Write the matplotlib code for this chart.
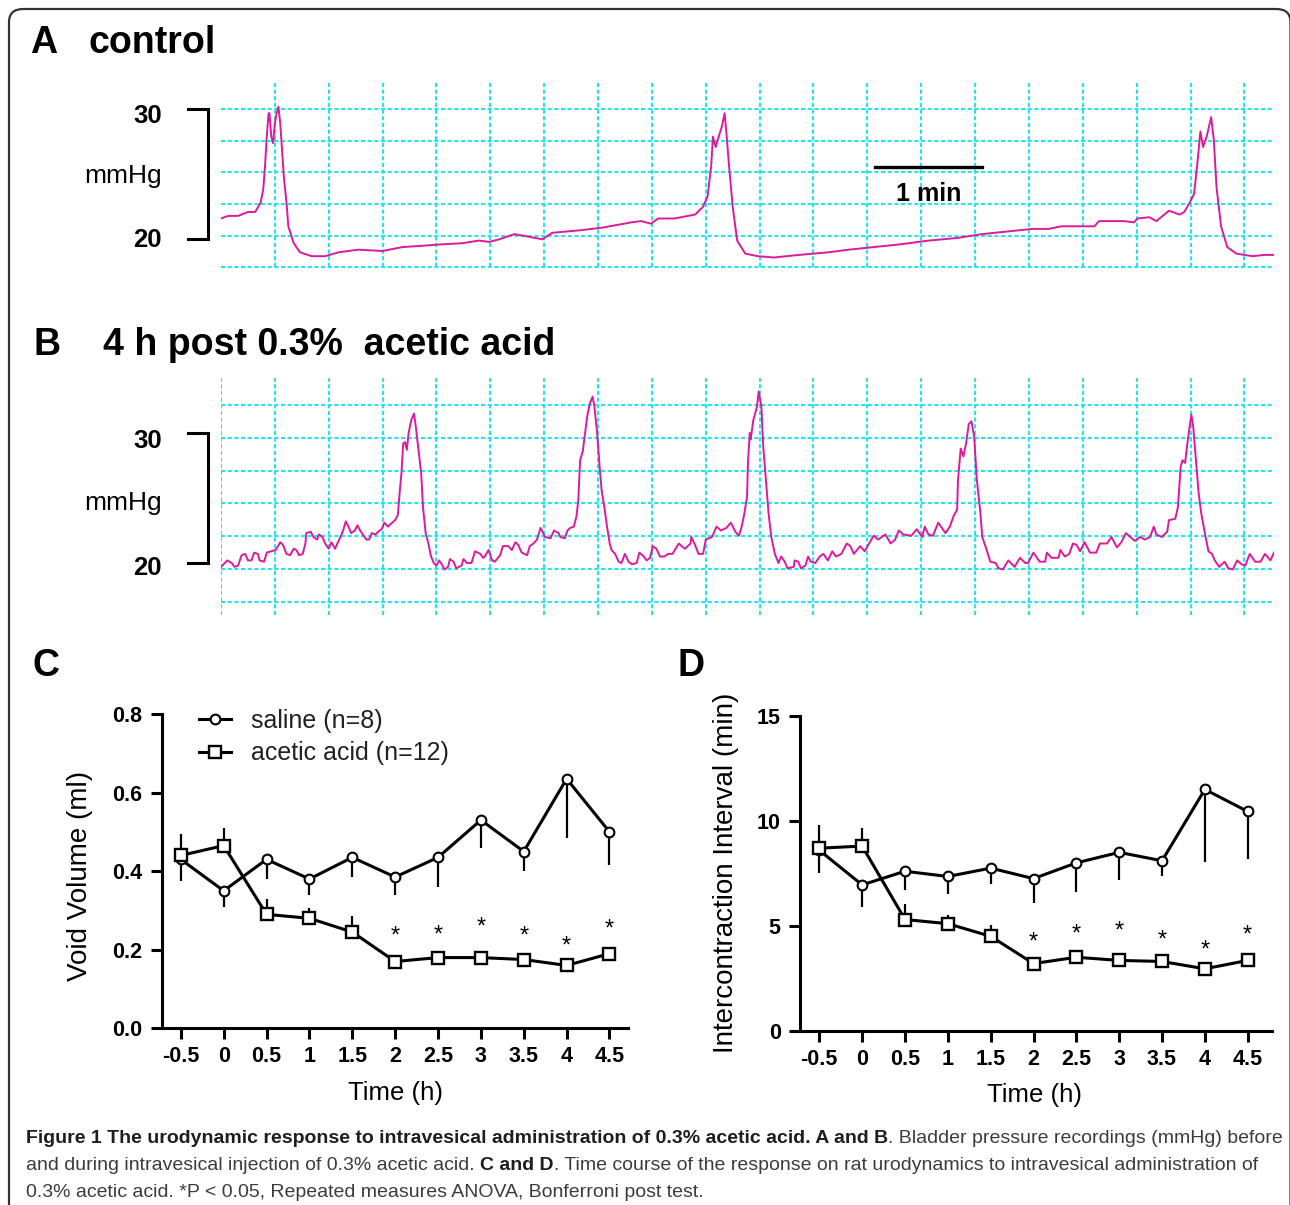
import matplotlib
matplotlib.use('Agg')
import matplotlib.pyplot as plt
import matplotlib.transforms as mtransforms
from matplotlib.lines import Line2D
from matplotlib.patches import FancyBboxPatch
from matplotlib import font_manager

plt.rcParams['font.family'] = ['Liberation Sans', 'DejaVu Sans']

"""Pressure recordings (time in s, pressure in mmHg)"""
ctrlTime = [0, 4, 9.5, 15, 19, 22, 23.5, 24.5, 25.5, 26.5,
            27, 28, 29, 30, 31, 32, 33, 34, 35, 36.5,
            37.5, 40.5, 44, 50.5, 58, 65.5, 76.5, 90, 101, 112,
            121.5, 134.5, 143.5, 149.5, 155, 163.5, 179, 184.5, 200.5, 212.5,
            228.5, 234, 239.5, 243.5, 252.5, 264, 268.5, 271, 273, 274,
            275.5, 277, 279, 280.5, 281.5, 283, 285, 287.5, 292, 299,
            308, 322, 338.5, 349.5, 363.5, 377.5, 394, 410, 424, 438,
            452, 461, 468, 486.5, 489, 503, 508.5, 510.5, 517, 521,
            528, 534, 536.5, 539.5, 542, 544, 545.5, 547, 549, 551.5,
            553, 554.5, 557, 560.5, 565.5, 574.5, 581.5, 586.5]
ctrlPressure = [21.6, 21.8, 21.8, 22.1, 22.1, 22.8, 23.8, 25.6, 27.9, 29.7,
                29.7, 27.9, 27.4, 28.9, 29.7, 30.2, 28.9, 26.9, 24.8, 22.8,
                21.0, 19.7, 19.0, 18.7, 18.7, 19.0, 19.2, 19.1, 19.4, 19.5,
                19.6, 19.7, 19.9, 19.8, 20.0, 20.4, 20.0, 20.5, 20.7, 20.9,
                21.3, 21.4, 21.2, 21.6, 21.6, 21.9, 22.5, 23.3, 25.6, 27.9,
                27.1, 27.8, 28.7, 29.7, 28.2, 25.6, 22.5, 19.9, 18.9, 18.7,
                18.6, 18.8, 19.0, 19.2, 19.4, 19.6, 19.9, 20.1, 20.4, 20.6,
                20.8, 20.8, 21.0, 21.0, 21.4, 21.4, 21.3, 21.6, 21.7, 21.4,
                22.2, 21.9, 22.1, 22.8, 23.5, 26.1, 28.3, 27.1, 27.9, 29.4,
                27.6, 24.0, 21.0, 19.4, 18.9, 18.7, 18.8, 18.8]

aceticTime = [0, 3.5, 6, 7.5, 9.5, 11.5, 13.5, 15, 17, 18.5,
              20.5, 21.5, 24, 25.5, 28, 30.5, 33, 34.5, 36.5, 38.5,
              40.5, 42, 43.5, 45.5, 47, 47.5, 50, 51.5, 53.5, 54.5,
              56.5, 58, 60, 61.5, 63.5, 66.5, 68, 69.5, 71, 72.5,
              74.5, 76, 77.5, 79.5, 81, 82.5, 84, 86, 87.5, 89.5,
              91, 93, 94.5, 97, 98.5, 99.5, 100.5, 101.5, 102.5, 103.5,
              104.5, 106, 107.5, 108.5, 110, 111.5, 112.5, 114, 115.5, 117,
              118.5, 120, 121.5, 123, 124.5, 126.5, 127.5, 129.5, 131, 134,
              135, 137, 139.5, 141.5, 144.5, 146, 147, 149, 151, 152.5,
              155.5, 157, 160, 162, 164, 165.5, 167.5, 170.5, 172, 174,
              176, 178, 180.5, 183.5, 185.5, 188, 189, 191.5, 193, 194.5,
              196.5, 198, 199, 200, 201.5, 203, 204, 205.5, 207, 208,
              209.5, 211, 212, 213.5, 215, 216.5, 217.5, 219.5, 221.5, 223,
              225, 227, 229, 231.5, 233, 235.5, 237, 239, 240.5, 242.5,
              244.5, 247, 249, 251.5, 255, 256.5, 258.5, 261.5, 262, 264,
              266, 268.5, 270, 273.5, 276, 278.5, 281.5, 284, 286.5, 288.5,
              290, 291.5, 293, 293.5, 294.5, 295, 296.5, 298.5, 299.5, 301,
              302, 303.5, 305, 306.5, 308.5, 310.5, 312, 314, 315.5, 319,
              319.5, 321.5, 323, 325.5, 327, 328.5, 331, 333.5, 335.5, 338,
              340.5, 342.5, 345.5, 348.5, 350.5, 352.5, 356, 358.5, 363.5, 366,
              370, 373, 375.5, 377.5, 380, 384.5, 387.5, 390.5, 392, 394,
              396.5, 399.5, 403.5, 406, 408, 410, 410.5, 412, 413.5, 415,
              416.5, 418, 419.5, 421, 423, 424, 426, 428.5, 431.5, 433,
              435.5, 438.5, 442, 445, 448, 449.5, 452.5, 456, 459, 460,
              462.5, 466.5, 467.5, 470, 472.5, 474.5, 476.5, 478.5, 481, 484,
              487.5, 489.5, 493.5, 496, 499, 501.5, 504, 506.5, 509, 512,
              514.5, 517.5, 519.5, 521, 524, 527, 528, 531.5, 533, 534.5,
              535.5, 537, 538, 539.5, 540.5, 541.5, 543, 544.5, 546, 548,
              550, 552, 553.5, 556, 559, 561, 563.5, 566, 568.5, 570.5,
              573, 576, 579, 581.5, 584.5, 586.5]
aceticPressure = [19.7, 20.2, 20.0, 19.7, 19.8, 20.6, 20.7, 20.2, 20.2, 20.8,
                  20.7, 20.2, 20.1, 20.8, 20.9, 21.0, 21.6, 21.4, 20.7, 20.6,
                  21.1, 21.0, 20.6, 20.7, 21.5, 22.3, 22.4, 22.0, 21.8, 22.2,
                  22.0, 21.5, 21.1, 21.6, 21.1, 22.0, 22.5, 23.2, 22.8, 22.3,
                  22.5, 22.9, 22.5, 22.1, 21.8, 21.8, 22.3, 22.2, 22.4, 22.6,
                  23.1, 22.8, 23.0, 23.3, 23.7, 25.4, 26.9, 29.2, 29.3, 28.7,
                  30.0, 31.0, 31.5, 30.5, 28.7, 26.9, 24.3, 22.3, 21.5, 20.5,
                  20.0, 19.8, 20.2, 19.9, 19.5, 19.7, 20.3, 20.1, 19.6, 19.8,
                  20.3, 20.0, 20.0, 20.9, 20.7, 20.4, 20.5, 21.0, 20.2, 20.1,
                  20.6, 21.3, 21.3, 21.0, 21.6, 21.4, 20.8, 20.6, 21.3, 21.5,
                  21.8, 22.7, 22.0, 21.9, 22.5, 22.3, 22.0, 21.9, 22.5, 22.7,
                  22.8, 23.6, 24.8, 27.9, 28.6, 30.2, 31.3, 32.3, 32.8, 32.0,
                  30.0, 27.2, 25.6, 24.3, 22.8, 21.5, 21.0, 20.7, 20.1, 20.0,
                  20.7, 20.1, 19.9, 20.0, 20.8, 20.5, 20.2, 20.4, 21.3, 21.1,
                  20.5, 20.5, 20.7, 20.7, 21.5, 21.3, 21.1, 21.5, 22.0, 21.4,
                  20.7, 20.7, 21.8, 22.0, 22.8, 22.5, 22.7, 23.1, 22.4, 22.1,
                  22.8, 23.8, 25.1, 27.7, 30.0, 29.5, 31.0, 32.0, 33.2, 32.0,
                  29.0, 26.4, 23.8, 22.0, 20.7, 20.0, 20.5, 20.1, 19.6, 19.7,
                  20.2, 20.1, 19.6, 19.8, 20.5, 20.1, 20.0, 20.5, 20.7, 20.2,
                  20.9, 20.5, 20.7, 21.5, 21.3, 20.7, 21.3, 20.9, 22.1, 21.8,
                  22.2, 21.5, 21.8, 22.5, 22.2, 22.1, 22.6, 22.0, 22.8, 22.2,
                  22.1, 23.1, 22.3, 22.8, 23.6, 24.1, 26.4, 28.8, 28.2, 29.2,
                  30.7, 30.9, 29.7, 26.4, 23.8, 22.0, 21.2, 20.1, 20.0, 19.6,
                  19.5, 20.2, 19.7, 20.4, 20.0, 20.0, 20.8, 20.1, 20.1, 20.8,
                  20.4, 20.4, 21.0, 20.5, 20.7, 21.5, 21.4, 20.9, 21.6, 20.8,
                  20.8, 21.5, 21.5, 22.0, 21.2, 21.6, 22.3, 22.0, 21.7, 22.0,
                  21.8, 22.0, 22.8, 22.2, 22.0, 22.4, 23.3, 23.4, 24.3, 27.4,
                  27.9, 27.7, 28.9, 30.5, 31.4, 30.5, 27.9, 25.4, 23.8, 22.3,
                  20.9, 20.7, 20.2, 19.7, 20.1, 19.6, 19.5, 20.2, 19.9, 19.8,
                  20.7, 20.1, 20.1, 20.7, 20.2, 20.8]

"""Time course (mean, SEM)"""
hours = [-0.5, 0, 0.5, 1, 1.5, 2, 2.5, 3, 3.5, 4, 4.5]
hourLabels = ['-0.5', '0', '0.5', '1', '1.5', '2', '2.5', '3', '3.5', '4', '4.5']
starHours = [2, 2.5, 3, 3.5, 4, 4.5]

volSaline = [0.43, 0.35, 0.43, 0.38, 0.435, 0.385, 0.435, 0.53, 0.45, 0.635, 0.50]
volSalineSem = [0.055, 0.04, 0.05, 0.04, 0.05, 0.045, 0.075, 0.07, 0.05, 0.15, 0.085]
volAcetic = [0.44, 0.465, 0.29, 0.28, 0.245, 0.17, 0.18, 0.18, 0.175, 0.16, 0.19]
volAceticSem = [0.055, 0.045, 0.04, 0.025, 0.04, 0.01, 0.01, 0.01, 0.01, 0.01, 0.01]
volStarY = [0.25, 0.255, 0.275, 0.25, 0.225, 0.27]

iciSaline = [8.6, 6.95, 7.6, 7.35, 7.75, 7.25, 8.0, 8.5, 8.1, 11.5, 10.45]
iciSalineSem = [1.1, 1.05, 0.9, 0.85, 0.75, 1.15, 1.4, 1.3, 0.75, 3.45, 2.25]
iciAcetic = [8.7, 8.8, 5.3, 5.1, 4.5, 3.2, 3.5, 3.35, 3.3, 2.95, 3.35]
iciAceticSem = [1.1, 0.85, 0.75, 0.4, 0.55, 0.2, 0.2, 0.2, 0.2, 0.2, 0.2]
iciStarY = [4.55, 4.9, 5.05, 4.65, 4.15, 4.85]

CYAN = '#22E5EE'
MAGENTA = '#DD1A9C'

W, H = 1290, 1205
fig = plt.figure(figsize=(W / 100, H / 100), dpi=100)
fig.patch.set_facecolor('white')


def box(left, top, right, bottom):
    return [left / W, 1 - bottom / H, (right - left) / W, (bottom - top) / H]


def fx(x):
    return x / W


def fy(y):
    return 1 - y / H


# frame round the whole figure
frame = FancyBboxPatch((fx(9), fy(1300)), fx(1290.5) - fx(9), fy(9) - fy(1300),
                       boxstyle='round,pad=0,rounding_size=0.011',
                       transform=fig.transFigure, fill=False, lw=1.6, ec='#333333')
fig.add_artist(frame)


def trace_panel(rect, t, p, ylim, hgrid, vgrid, vspan, labelY):
    ax = fig.add_axes(rect)
    ax.set_xlim(0, 586.5)
    ax.set_ylim(*ylim)
    ax.axis('off')
    dash = (0, (2.0, 1.2))
    ax.hlines(hgrid, 0, 586.5, colors=CYAN, linewidth=1.5, linestyles=dash)
    ax.vlines(vgrid, vspan[0], vspan[1], colors=CYAN, linewidth=1.5, linestyles=dash)
    ax.plot(t, p, color=MAGENTA, lw=1.4)
    # mmHg bracket
    ax.plot([-18.5, -7.2, -7.2, -18.5], [30, 30, 20, 20], color='black', lw=2.2,
            clip_on=False, solid_joinstyle='miter')
    ax.text(-33, labelY[0], '30', ha='right', va='center', fontsize=18.5, fontweight='bold')
    ax.text(-33, labelY[1], 'mmHg', ha='right', va='center', fontsize=19)
    ax.text(-33, labelY[2], '20', ha='right', va='center', fontsize=18.5, fontweight='bold')
    return ax


axA = trace_panel(box(221, 80, 1274, 270), ctrlTime, ctrlPressure, (17.638, 32.254),
                  [30, 27.57, 25.14, 22.71, 20.28, 17.85],
                  [30 * k for k in range(1, 20)], (17.85, 32.0), (29.5, 24.87, 19.96))
axA.plot([364, 424], [25.56, 25.56], color='black', lw=2.4)
axA.text(394, 23.5, '1 min', ha='center', va='center', fontsize=18, fontweight='bold')

axB = trace_panel(box(221, 375, 1274, 618), aceticTime, aceticPressure, (15.769, 34.462),
                  [32.15, 29.63, 27.11, 24.59, 22.07, 19.55, 17.03],
                  [30 * k for k in range(0, 20)], (16.0, 34.23), (29.4, 24.6, 19.65))

fig.text(fx(30), fy(53), 'A', fontsize=27, fontweight='bold', va='baseline')
fig.text(fx(88), fy(53), 'control', fontsize=27, fontweight='bold', va='baseline')
fig.text(fx(33), fy(355), 'B', fontsize=27, fontweight='bold', va='baseline')
fig.text(fx(103), fy(355), '4 h post 0.3%  acetic acid', fontsize=27, fontweight='bold', va='baseline')
fig.text(fx(32), fy(676), 'C', fontsize=27, fontweight='bold', va='baseline')
fig.text(fx(677), fy(676), 'D', fontsize=27, fontweight='bold', va='baseline')

salineStyle = dict(color='black', lw=2.2, marker='o', ms=7, mfc='white', mec='black', mew=1.5)
aceticStyle = dict(color='black', lw=2.2, marker='s', ms=9, mfc='white', mec='black', mew=1.7)


def time_panel(rect, xmax, ymax, yticks, yticklabels, sal, salSem, aa, aaSem, starY,
               ylabel, ylabPos, xlabPos):
    ax = fig.add_axes(rect)
    zeros = [0] * len(hours)
    ax.errorbar(hours, sal, yerr=[salSem, zeros], fmt='none', ecolor='black',
                elinewidth=1.6, capsize=0, zorder=2)
    ax.errorbar(hours, aa, yerr=[zeros, aaSem], fmt='none', ecolor='black',
                elinewidth=1.6, capsize=0, zorder=2)
    ax.plot(hours, sal, zorder=3, **salineStyle)
    ax.plot(hours, aa, zorder=3, **aceticStyle)
    starTrans = mtransforms.offset_copy(ax.transData, fig=fig, y=-5, units='points')
    for x, y in zip(starHours, starY):
        ax.text(x, y, '*', ha='center', va='center', fontsize=17, transform=starTrans)
    ax.set_xlim(-0.723, xmax)
    ax.set_ylim(0, ymax)
    for side in ['top', 'right']:
        ax.spines[side].set_visible(False)
    for side in ['left', 'bottom']:
        ax.spines[side].set_linewidth(2.2)
    ax.set_xticks(hours)
    ax.set_xticklabels(hourLabels, fontweight='bold')
    ax.set_yticks(yticks)
    ax.set_yticklabels(yticklabels, fontweight='bold')
    ax.tick_params(direction='out', length=8, width=2.2, labelsize=15.5)
    ax.tick_params(axis='x', pad=5)
    ax.tick_params(axis='y', pad=6)
    ax.set_ylabel(ylabel, fontsize=20)
    ax.yaxis.set_label_coords(*ylabPos)
    ax.yaxis.label.set_va('center')
    ax.set_xlabel('Time (h)', fontsize=18.5)
    ax.xaxis.set_label_coords(*xlabPos)
    ax.xaxis.label.set_va('center')
    return ax


axC = time_panel(box(161.7, 714, 627.5, 1028.3), 4.71, 0.8, [0, 0.2, 0.4, 0.6, 0.8],
                 ['0.0', '0.2', '0.4', '0.6', '0.8'], volSaline, volSalineSem,
                 volAcetic, volAceticSem, volStarY, 'Void Volume (ml)',
                 (-0.175, 0.485), (0.503, -0.206))
handles = [Line2D([0], [0], **salineStyle), Line2D([0], [0], **aceticStyle)]
axC.legend(handles, ['saline (n=8)', 'acetic acid (n=12)'], loc='upper left',
           bbox_to_anchor=(0.08, 1.017), frameon=False, fontsize=18, borderpad=0,
           borderaxespad=0, handlelength=1.3, handletextpad=0.8, labelspacing=0.35,
           labelcolor='#222222')

axD = time_panel(box(800.2, 716, 1271.7, 1030.7), 4.78, 15, [0, 5, 10, 15],
                 ['0', '5', '10', '15'], iciSaline, iciSalineSem,
                 iciAcetic, iciAceticSem, iciStarY, 'Intercontraction Interval (min)',
                 (-0.1565, 0.501), (0.497, -0.204))

# caption
capFamily = 'Liberation Sans Narrow'
try:
    font_manager.findfont(font_manager.FontProperties(family=capFamily), fallback_to_default=False)
except ValueError:
    capFamily = 'Liberation Sans'

captionLines = [
    [('Figure 1 The urodynamic response to intravesical administration of 0.3% acetic acid. A and B', True, False),
     ('. Bladder pressure recordings (mmHg) before', False, False)],
    [('and during intravesical injection of 0.3% acetic acid.', False, False),
     ('C and D', True, True),
     ('. Time course of the response on rat urodynamics to intravesical administration of', False, False)],
    [('0.3% acetic acid. *P < 0.05, Repeated measures ANOVA, Bonferroni post test.', False, False)],
]
captionBase = [1143, 1170, 1197]
renderer = fig.canvas.get_renderer()


def width_of(txt, size, bold):
    t = fig.text(0, 0, txt, fontsize=size, family=capFamily, fontweight='bold' if bold else 'normal')
    w = t.get_window_extent(renderer).width
    t.remove()
    return w


def line_width(parts, size):
    space = width_of('n n', size, False) - width_of('nn', size, False)
    total = 0
    for txt, bold, gap in parts:
        total += width_of(txt, size, bold) + (space if gap else 0)
    return total


capSize = 13 * 1251 / line_width(captionLines[0], 13)
space = width_of('n n', capSize, False) - width_of('nn', capSize, False)
for parts, base in zip(captionLines, captionBase):
    x = 26
    for txt, bold, gap in parts:
        if gap:
            x += space
        t = fig.text(fx(x), fy(base), txt, fontsize=capSize, family=capFamily,
                     fontweight='bold' if bold else 'normal', va='baseline',
                     color='#1e1e1e' if bold else '#3c3c3c')
        x += t.get_window_extent(renderer).width

fig.savefig('out.png', dpi=100)
